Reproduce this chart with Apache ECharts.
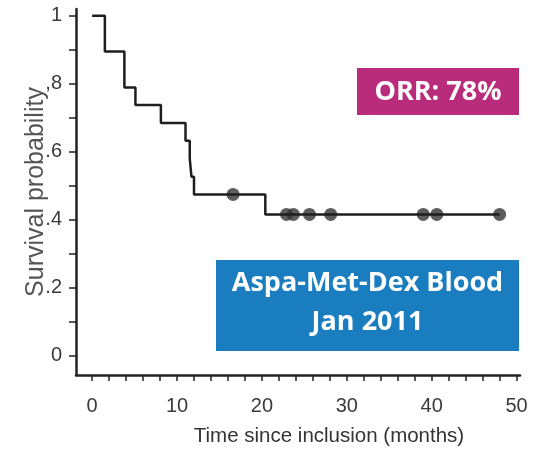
<!DOCTYPE html>
<html>
<head>
<meta charset="utf-8">
<script src="https://cdn.jsdelivr.net/npm/echarts@6/dist/echarts.min.js"></script>
<style>
html,body{margin:0;padding:0;background:#fff;}
#chart{width:538px;height:452px;}
</style>
</head>
<body>
<div id="chart"></div>
<script>
// Kaplan-Meier step curve (time in months, survival probability)
const kmTimes = [0, 1.5, 3.8, 5.1, 8.1, 11.0, 11.5, 11.7, 12.0, 20.4, 48.0];
const kmSurv  = [1, 0.895, 0.789, 0.737, 0.684, 0.632, 0.579, 0.526, 0.474, 0.415, 0.415];
// censored observations
const censorTimes = [16.6, 22.9, 23.7, 25.6, 28.1, 39.0, 40.6, 48.0];
const censorSurv  = [0.474, 0.415, 0.415, 0.415, 0.415, 0.415, 0.415, 0.415];
// axis ticks and labels
const xTickValues  = [0, 2, 4, 6, 8, 10, 12, 14, 16, 18, 20, 22, 24, 26, 28, 30, 32, 34, 36, 38, 40, 42, 44, 46, 48, 50];
const xLabelValues = [0, 10, 20, 30, 40, 50];
const xTickLabels  = ['0', '10', '20', '30', '40', '50'];
const yTickValues  = [0, 0.1, 0.2, 0.3, 0.4, 0.5, 0.6, 0.7, 0.8, 0.9, 1];
const yLabelValues = [0, 0.2, 0.4, 0.6, 0.8, 1];
const yTickLabels  = ['0', '.2', '.4', '.6', ',8', '1'];
// texts
const xTitle = 'Time since inclusion (months)';
const yTitle = 'Survival probability';
const orrText = 'ORR: 78%';
const studyText = 'Aspa-Met-Dex Blood\nJan 2011';

function lookup(vals, labels, v) {
  let best = 0, d = Infinity;
  vals.forEach((x, i) => { const dd = Math.abs(x - v); if (dd < d) { d = dd; best = i; } });
  return labels[best];
}

const font = '"Liberation Sans", Arial, sans-serif';
const chart = echarts.init(document.getElementById('chart'), null, {renderer: 'canvas'});
const axisColor = '#222';
const labelColor = '#3a3a3a';
chart.setOption({
  animation: false,
  backgroundColor: '#fff',
  grid: {left: 76, right: 18, top: 9, bottom: 74, containLabel: false},
  xAxis: {
    type: 'value', min: -1.9, max: 50.4,
    name: xTitle, nameLocation: 'middle', nameGap: 51, nameMoveOverlap: false,
    nameTextStyle: {fontFamily: font, fontSize: 20.5, color: '#333', verticalAlign: 'top', padding: [0, 0, 0, 62]},
    axisLine: {show: true, onZero: false, lineStyle: {color: axisColor, width: 2.5}},
    axisTick: {show: true, customValues: xTickValues, length: 6, lineStyle: {color: axisColor, width: 1.5}},
    axisLabel: {customValues: xLabelValues, margin: 21, fontFamily: font, fontSize: 20, color: labelColor,
      formatter: v => lookup(xLabelValues, xTickLabels, v)},
    splitLine: {show: false}
  },
  yAxis: {
    type: 'value', min: -0.058, max: 1.02,
    name: yTitle, nameLocation: 'middle', nameGap: 27, nameMoveOverlap: false,
    nameTextStyle: {fontFamily: font, fontSize: 25, color: '#555'},
    axisLine: {show: true, onZero: false, lineStyle: {color: axisColor, width: 2.5}},
    axisTick: {show: true, customValues: yTickValues, length: 7, lineStyle: {color: axisColor, width: 1.5}},
    axisLabel: {customValues: yLabelValues, margin: 14, fontFamily: font, fontSize: 20, color: labelColor,
      formatter: v => lookup(yLabelValues, yTickLabels, v)},
    splitLine: {show: false}
  },
  series: [
    {
      type: 'line', step: 'end', symbol: 'none',
      data: kmTimes.map((t, i) => [t, kmSurv[i]]),
      lineStyle: {color: '#1e1e1e', width: 2.5}
    },
    {
      type: 'scatter', symbol: 'circle', symbolSize: 13,
      data: censorTimes.map((t, i) => [t, censorSurv[i]]),
      itemStyle: {color: '#333'}
    }
  ],
  graphic: [
    {type: 'rect', shape: {x: 357, y: 68, width: 162, height: 47}, style: {fill: '#B92B7B'}},
    {type: 'text', x: 438, y: 92, style: {text: orrText, fill: '#fff', font: 'bold 27px "Open Sans"', textAlign: 'center', textVerticalAlign: 'middle'}},
    {type: 'rect', shape: {x: 216, y: 260, width: 303, height: 91}, style: {fill: '#1A7DC0'}},
    {type: 'text', x: 367.5, y: 303, style: {text: studyText, fill: '#fff', font: 'bold 27px "Open Sans"', lineHeight: 39, textAlign: 'center', textVerticalAlign: 'middle'}}
  ]
});
</script>
</body>
</html>
